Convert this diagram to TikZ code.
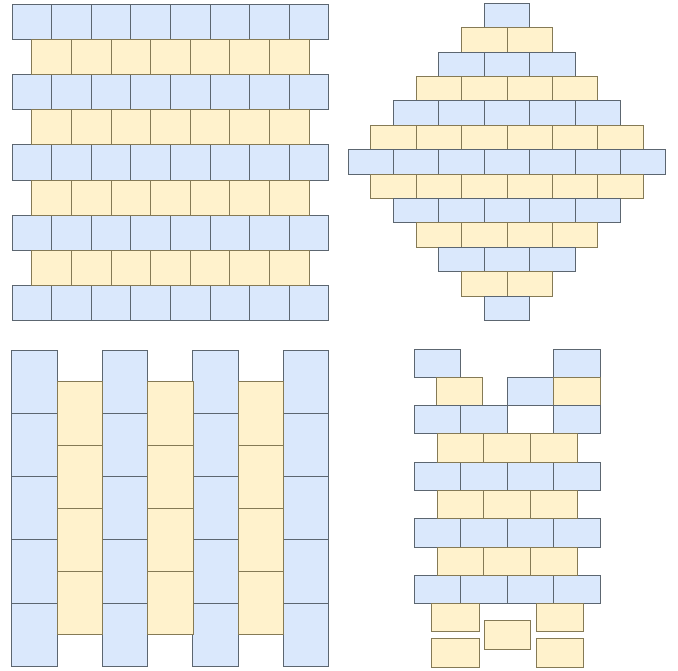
\documentclass[tikz,border=0pt]{standalone}
\usepackage{tikz}

\definecolor{blkblue}{HTML}{DAE8FC}
\definecolor{blkyel}{HTML}{FFF2CC}
\definecolor{edgeblue}{HTML}{5C6670}
\definecolor{edgeyel}{HTML}{857A55}

\begin{document}
\begin{tikzpicture}[
  x=1pt, y=-1pt,
  bluebrick/.style={draw=edgeblue, fill=blkblue, line width=0.9pt},
  yelbrick/.style={draw=edgeyel, fill=blkyel, line width=0.9pt},
]
\useasboundingbox (0,0) rectangle (678,671);

% Running bond (top left)
\foreach \r in {0,2,4,6,8}
  \foreach \c in {0,...,7}
    \draw[bluebrick] ({12+\c*39.6},{4+\r*35.2}) rectangle ++(39.6,35.2);
\foreach \r in {1,3,5,7}
  \foreach \c in {0,...,6}
    \draw[yelbrick] ({31.8+\c*39.6},{4+\r*35.2}) rectangle ++(39.6,35.2);

% Diamond (top right)
\foreach \i in {0,...,12} {
  \pgfmathtruncatemacro{\n}{7-abs(\i-6)}
  \pgfmathtruncatemacro{\odd}{mod(\i,2)}
  \foreach \c in {1,...,\n} {
    \ifnum\odd=0
      \draw[bluebrick] ({507-\n*22.7+(\c-1)*45.4},{3.3+\i*24.4}) rectangle ++(45.4,24.4);
    \else
      \draw[yelbrick] ({507-\n*22.7+(\c-1)*45.4},{3.3+\i*24.4}) rectangle ++(45.4,24.4);
    \fi
  }
}

% Stack bond columns (bottom left)
\foreach \c in {0,...,3}
  \foreach \r in {0,...,4}
    \draw[bluebrick] ({11.7+\c*90.5},{350+\r*63.3}) rectangle ++(45.5,63.3);
\foreach \c in {0,...,2}
  \foreach \r in {0,...,3}
    \draw[yelbrick] ({57.2+\c*90.5},{381.7+\r*63.3}) rectangle ++(45.5,63.3);

% Broken wall (bottom right)
\draw[bluebrick] (414,349) rectangle ++(46.6,28.3);
\draw[bluebrick] (553.8,349) rectangle ++(46.6,28.3);
\draw[yelbrick] (436.2,377.3) rectangle ++(46.6,28.3);
\draw[bluebrick] (507.2,377.3) rectangle ++(46.6,28.3);
\draw[yelbrick] (553.8,377.3) rectangle ++(46.6,28.3);
\draw[bluebrick] (414,405.6) rectangle ++(46.6,28.3);
\draw[bluebrick] (460.6,405.6) rectangle ++(46.6,28.3);
\draw[bluebrick] (553.8,405.6) rectangle ++(46.6,28.3);
\foreach \r in {4,6,8}
  \foreach \c in {0,...,3}
    \draw[bluebrick] ({414+\c*46.6},{349+\r*28.3}) rectangle ++(46.6,28.3);
\foreach \r in {3,5,7}
  \foreach \c in {0,...,2}
    \draw[yelbrick] ({437.3+\c*46.6},{349+\r*28.3}) rectangle ++(46.6,28.3);

% Loose bricks
\draw[yelbrick] (431.7,603.6) rectangle (479,631);
\draw[yelbrick] (536.7,603.6) rectangle (583.3,631);
\draw[yelbrick] (484.3,620.7) rectangle (530.7,649);
\draw[yelbrick] (431.7,638.3) rectangle (479,667.3);
\draw[yelbrick] (536.7,638.3) rectangle (583.3,667.3);
\end{tikzpicture}
\end{document}
